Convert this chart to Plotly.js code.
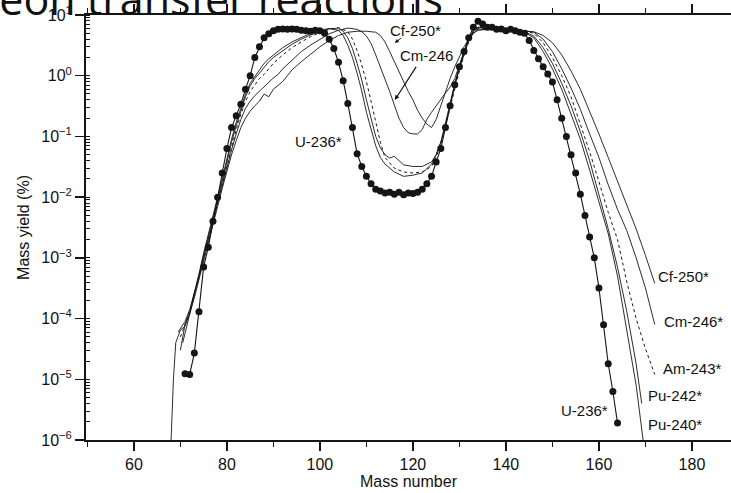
<!DOCTYPE html>
<html>
<head>
<meta charset="utf-8">
<script src="https://cdn.plot.ly/plotly-3.0.1.min.js"></script>
<style>html,body{margin:0;padding:0;background:#fff;overflow:hidden}</style>
</head>
<body>
<div id="chart" style="width:731px;height:493px"></div>
<script>
// ---- data (mass number, mass yield in %) ----
const massU236 = [71,72,73,74,75,76,77,78,79,80,81,82,83,84,85,86,87,88,89,90,91,92,93,94,95,96,97,98,99,100,
  101,102,103,104,105,106,107,108,109,110,111,112,113,114,115,116,117,118,119,120,121,122,123,124,125,126,127,128,129,130,
  131,132,133,134,135,136,137,138,139,140,141,142,143,144,145,146,147,148,149,150,151,152,153,154,155,156,157,158,159,160,
  161,162,163,164];
const yieldU236 = [1.23e-5,1.2e-5,2.7e-5,1.3e-4,7.1e-4,1.5e-3,4.0e-3,0.01,0.025,0.063,0.14,0.22,0.34,0.6,1.0,2.0,3.0,4.2,4.9,5.5,
  5.8,5.9,5.8,5.9,5.8,5.6,5.5,5.4,5.6,5.5,
  5.0,4.0,2.8,1.66,0.83,0.35,0.14,0.052,0.032,0.022,0.0166,0.0135,0.0126,0.0117,0.012,0.0112,0.012,0.011,0.0117,0.0115,
  0.012,0.0135,0.0166,0.022,0.038,0.063,0.14,0.32,0.71,1.4,
  2.5,4.2,6.3,7.9,7.1,6.3,6.3,5.8,5.9,5.5,5.8,5.5,5.2,5.0,3.8,2.6,1.9,1.4,1.07,0.79,
  0.4,0.2,0.1,0.05,0.025,0.0112,0.005,0.0022,0.001,3.2e-4,
  7.9e-5,1.8e-5,6.3e-6,1.9e-6];

const massPu240 = [70,71,72,73,74,75,76,77,78,79,80,81,82,83,84,85,86,87,88,89,90,92,94,96,98,100,102,104,
  105,106,107,108,109,110,111,112,113,114,116,118,120,122,124,125,126,127,128,129,130,131,132,133,134,
  136,138,140,142,144,146,148,150,152,154,156,158,160,162,164,166,168,169.5];
const yieldPu240 = [3e-5,8e-5,1.3e-4,2.6e-4,5.5e-4,1.2e-3,2.5e-3,5e-3,0.01,0.02,0.045,0.09,0.17,0.3,0.5,0.75,0.98,1.25,1.6,1.9,2.2,
  2.9,3.6,4.3,5.0,5.6,6.0,5.6,
  4.6,3.2,2.0,1.1,0.56,0.25,0.13,0.07,0.045,0.035,0.026,0.022,0.023,0.025,0.035,0.05,0.08,0.16,0.35,0.75,1.4,2.5,4.0,5.6,6.3,
  6.0,5.8,5.6,5.5,5.2,4.2,2.5,1.3,0.6,0.24,0.09,0.028,8e-3,2.5e-3,5e-4,6.3e-5,8e-6,1e-6];

const massPu242 = [70.5,71.5,72,73,74,75,76,77,78,79,80,81,82,83,84,85,86,87,88,89,90,92,94,96,98,100,102,104,
  105,106,107,108,109,110,111,112,113,114,115,116,117,118,120,122,124,125,126,127,128,129,130,131,132,133,134,
  136,138,140,142,144,146,148,150,152,154,156,158,160,162,164,166,168,169.2];
const yieldPu242 = [4e-5,8e-5,1.2e-4,2.4e-4,5e-4,1.1e-3,2.3e-3,4.6e-3,9e-3,0.018,0.04,0.08,0.15,0.27,0.45,0.68,0.9,1.1,1.4,1.7,2.0,
  2.6,3.3,4.0,4.7,5.3,5.9,6.1,
  5.4,4.2,2.8,1.6,0.85,0.4,0.19,0.1,0.065,0.05,0.044,0.047,0.04,0.034,0.032,0.032,0.038,0.05,0.08,0.15,0.32,0.7,1.3,2.3,3.8,5.4,6.2,
  6.0,5.8,5.7,5.5,5.3,4.5,2.9,1.6,0.75,0.32,0.12,0.04,0.011,3e-3,7e-4,1.3e-4,1.8e-5,4e-6];

const massAm243 = [70,71,72,73,74,75,76,77,78,79,80,81,82,83,84,85,86,87,88,89,90,92,94,96,98,100,102,104,
  106,107,108,109,110,111,112,113,114,116,118,120,122,124,125,126,127,128,129,130,131,132,133,134,
  136,138,140,142,144,146,148,150,152,154,156,158,160,162,164,166,168,170,172];
const yieldAm243 = [5e-5,8e-5,1.3e-4,2.5e-4,5e-4,1.1e-3,2.2e-3,4.4e-3,8.5e-3,0.017,0.035,0.07,0.13,0.23,0.38,0.55,0.72,0.9,1.05,1.3,1.6,
  2.2,2.9,3.6,4.4,5.1,5.8,6.2,
  5.3,4.0,2.6,1.5,0.8,0.38,0.17,0.08,0.045,0.03,0.026,0.025,0.026,0.032,0.045,0.075,0.15,0.3,0.65,1.2,2.2,3.6,5.2,6.0,
  5.9,5.8,5.7,5.6,5.4,5.0,3.5,2.0,1.0,0.45,0.16,0.056,0.018,5.6e-3,2e-3,4e-4,1e-4,3.2e-5,1.2e-5];

const massCm246 = [69.5,71,72,73,74,75,76,77,78,79,80,81,82,83,84,85,86,87,88,89,90,91,92,94,96,98,100,102,104,106,
  108,109,110,111,112,113,114,115,116,117,118,119,120,121,122,123,124,125,126,127,128,129,130,131,132,133,134,
  136,138,140,142,144,146,148,150,152,154,156,158,160,162,164,166,168,170,172];
const yieldCm246 = [6e-5,9e-5,1.4e-4,2.6e-4,5e-4,1e-3,2e-3,4e-3,8e-3,0.016,0.032,0.06,0.11,0.19,0.29,0.38,0.47,0.56,0.65,0.78,0.92,1.05,1.3,1.8,2.5,3.2,4.0,4.9,5.6,6.1,
  5.8,5.3,4.5,3.4,2.2,1.4,0.9,0.55,0.33,0.2,0.14,0.115,0.11,0.11,0.13,0.19,0.25,0.32,0.42,0.52,0.65,0.9,1.5,2.5,3.8,5.0,5.8,
  5.9,5.9,5.8,5.7,5.5,5.2,4.0,2.5,1.3,0.63,0.28,0.11,0.045,0.016,6.3e-3,2.8e-3,1e-3,3.2e-4,8e-5];

const massCf250 = [68,68.5,69,70,71,72,73,74,75,76,77,78,79,80,81,82,83,84,85,86,87,88,89,90,91,92,93,94,
  96,98,100,102,104,106,108,110,112,
  113,114,115,116,117,118,119,120,121,122,123,124,125,126,127,128,129,130,131,132,133,134,
  136,138,140,142,144,146,148,150,152,154,156,158,160,162,164,166,168,170,172];
const yieldCf250 = [1e-6,1e-5,4e-5,6.5e-5,7.5e-5,1.2e-4,2.2e-4,4.5e-4,9e-4,1.8e-3,3.6e-3,7e-3,0.014,0.028,0.05,0.085,0.14,0.2,0.26,0.32,0.38,0.5,0.45,0.6,0.7,0.8,1.0,1.25,
  1.7,2.3,3.0,3.8,4.6,5.2,5.4,5.4,5.2,
  4.6,3.6,2.5,1.7,1.15,0.8,0.55,0.4,0.27,0.2,0.16,0.14,0.19,0.32,0.55,0.9,1.4,2.1,3.0,4.0,5.0,5.6,
  5.8,5.8,5.7,5.6,5.5,5.3,4.6,3.5,2.2,1.2,0.6,0.26,0.11,0.045,0.018,7e-3,3e-3,1.1e-3,3.8e-4];

const yTickVals = [10,1,0.1,0.01,1e-3,1e-4,1e-5,1e-6];
const yTickText = ["10<sup>1</sup>","10<sup>0</sup>","10<sup>\u22121</sup>","10<sup>\u22122</sup>","10<sup>\u22123</sup>",
                   "10<sup>\u22124</sup>","10<sup>\u22125</sup>","10<sup>\u22126</sup>"];
const labelTexts = ["Cf-250*","Cm-246","U-236*","Cf-250*","Cm-246*","Am-243*","Pu-242*","Pu-240*","U-236*"];
const chartTitle = "Fragment mass yields in multinucleon transfer reactions";

// ---- traces ----
const ink = "#151515";
function line(name, x, y, dash, w) {
  return {type:"scatter", mode:"lines", name:name, x:x, y:y,
          line:{color:ink, width:w, dash:dash}, hoverinfo:"skip"};
}
const traces = [
  line("Cf-250*", massCf250, yieldCf250, "solid", 0.9),
  line("Cm-246*", massCm246, yieldCm246, "solid", 0.9),
  line("Am-243*", massAm243, yieldAm243, "dot", 1.0),
  line("Pu-242*", massPu242, yieldPu242, "solid", 0.9),
  line("Pu-240*", massPu240, yieldPu240, "solid", 0.9),
  {type:"scatter", mode:"lines+markers", name:"U-236*", x:massU236, y:yieldU236,
   line:{color:ink, width:1.1}, marker:{color:ink, size:7, symbol:"circle"}, hoverinfo:"skip"}
];

const lf = {family:"Liberation Sans, Arial, Helvetica, sans-serif", size:15, color:"#111"};
function lab(i, x, ly) {
  return {text:labelTexts[i], x:x, y:ly, xref:"x", yref:"y", showarrow:false, font:lf, xanchor:"center", yanchor:"middle"};
}
const annotations = [
  lab(0, 120.6, 0.75),
  lab(1, 123.0, 0.33),
  lab(2, 99.6, -1.08),
  lab(3, 178.2, -3.30),
  lab(4, 180.4, -4.04),
  lab(5, 180.2, -4.83),
  lab(6, 176.4, -5.26),
  lab(7, 176.4, -5.75),
  lab(8, 156.8, -5.51),
  {text:"", x:116.1, y:0.54, ax:117.8, ay:0.64, xref:"x", yref:"y", axref:"x", ayref:"y",
   showarrow:true, arrowhead:2, arrowsize:0.8, arrowwidth:1, arrowcolor:ink},
  {text:"", x:116.1, y:-0.40, ax:120.9, ay:0.17, xref:"x", yref:"y", axref:"x", ayref:"y",
   showarrow:true, arrowhead:2, arrowsize:0.8, arrowwidth:1.2, arrowcolor:ink}
];

const axFont = {family:"Liberation Sans, Arial, Helvetica, sans-serif", size:16, color:"#111"};
const layout = {
  width:731, height:493,
  margin:{l:86, r:0, t:15, b:53, pad:0},
  paper_bgcolor:"#fff", plot_bgcolor:"#fff",
  showlegend:false,
  title:{text:chartTitle, xref:"container", yref:"container", x:0.606, xanchor:"right", y:1, yanchor:"middle",
         font:{family:"Open Sans, sans-serif", size:43, color:"#111"}},
  xaxis:{range:[49.7, 188.4], tickmode:"linear", tick0:60, dtick:20,
         ticks:"outside", ticklen:9, tickwidth:1.5, tickcolor:ink,
         minor:{dtick:10, tick0:50, ticks:"outside", ticklen:5, tickwidth:1.2, tickcolor:ink},
         showline:true, linewidth:2, linecolor:ink, mirror:"ticks",
         showgrid:false, zeroline:false, tickfont:axFont,
         title:{text:"Mass number", font:axFont, standoff:4}},
  yaxis:{type:"log", range:[-6, 1], tickmode:"array", tickvals:yTickVals, ticktext:yTickText,
         ticks:"outside", ticklen:9, tickwidth:1.5, tickcolor:ink,
         minor:{dtick:"D1", ticks:"inside", ticklen:4, tickwidth:1, tickcolor:ink},
         showline:true, linewidth:2, linecolor:ink, mirror:false,
         showgrid:false, zeroline:false, tickfont:axFont,
         title:{text:"Mass yield (%)", font:axFont, standoff:8}},
  annotations:annotations
};

Plotly.newPlot("chart", traces, layout, {staticPlot:true, displayModeBar:false});
</script>
</body>
</html>
